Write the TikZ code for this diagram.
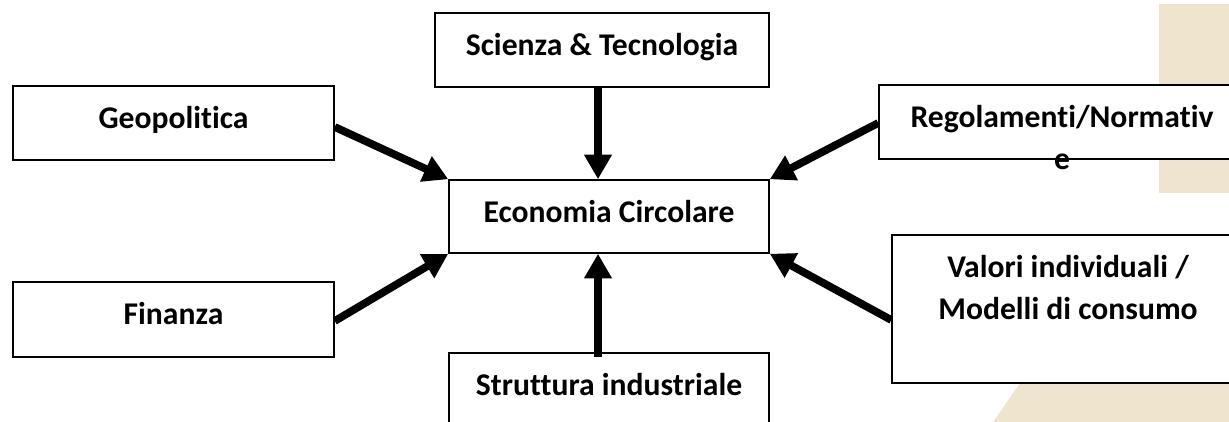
\documentclass[tikz,border=0pt]{standalone}
\usepackage{fontspec}
\setmainfont{Carlito}[Ligatures=NoCommon]
\usetikzlibrary{arrows.meta}
\definecolor{sand}{HTML}{EFE4CE}

\tikzset{
  factor/.style   = {shape=rectangle, draw, line width=0.9pt, fill=white},
  factortxt/.style = {anchor=north, inner sep=0pt, align=center,
                      font=\bfseries\fontsize{18}{24.4}\selectfont},
  influence/.style = {line width=4.4pt, -{Triangle[length=14pt,width=15pt]}}
}

\begin{document}
\begin{tikzpicture}
  [
    x = 0.02cm,
    y = -0.02cm
  ]
  \useasboundingbox (0,0) rectangle (1229,422);
  \clip (0,0) rectangle (1229,422);
  % page decoration
  \fill [sand] (1159,4) rectangle (1229,193);
  \fill [sand] (993,422) -- (1047,344) -- (1229,344) -- (1229,422) -- cycle;

  \node [factor, minimum width=6.68cm, minimum height=1.48cm] (sci) at (602,50)    {};
  \node [factor, minimum width=6.42cm, minimum height=1.48cm] (geo) at (173.5,123) {};
  \node [factor, minimum width=6.42cm, minimum height=1.50cm] (fin) at (173.5,319.5) {};
  \node [factor, minimum width=6.40cm, minimum height=1.46cm] (eco) at (609,216.5) {};
  \node [factor, minimum width=6.40cm, minimum height=1.48cm] (str) at (609,390)   {};
  \node [factor, minimum width=7.32cm, minimum height=1.48cm] (reg) at (1062,122)  {};
  \node [factor, minimum width=7.04cm, minimum height=2.96cm] (val) at (1068,309)  {};

  \node [factortxt] (sci-txt) at ([yshift=-0.25cm]sci.north) {\strut Scienza \& Tecnologia};
  \node [factortxt] (geo-txt) at ([yshift=-0.25cm]geo.north) {\strut Geopolitica};
  \node [factortxt] (fin-txt) at ([yshift=-0.25cm]fin.north) {\strut Finanza};
  \node [factortxt] (eco-txt) at ([yshift=-0.25cm]eco.north) {\strut Economia Circolare};
  \node [factortxt] (str-txt) at ([yshift=-0.25cm]str.north) {\strut Struttura industriale};
  \node [factortxt] (reg-txt) at ([yshift=-0.25cm]reg.north) {\strut Regolamenti/Normativ\\e};
  \node [factortxt] (val-txt) at ([yshift=-0.25cm]val.north) {\strut Valori individuali /\\Modelli di consumo};

  \draw [influence] ([xshift=-0.08cm]sci.south) -- ([xshift=-0.22cm]eco.north);
  \draw [influence] ([yshift=-0.08cm]geo.east) -- (eco.north west);
  \draw [influence] ([yshift=-0.03cm]fin.east) -- (eco.south west);
  \draw [influence] ([yshift=-0.02cm]reg.west) -- (eco.north east);
  \draw [influence] ([yshift=-0.22cm]val.west) -- (eco.south east);
  \draw [influence] ([xshift=-0.22cm,yshift=-0.1cm]str.north) -- ([xshift=-0.22cm]eco.south);
\end{tikzpicture}
\end{document}
